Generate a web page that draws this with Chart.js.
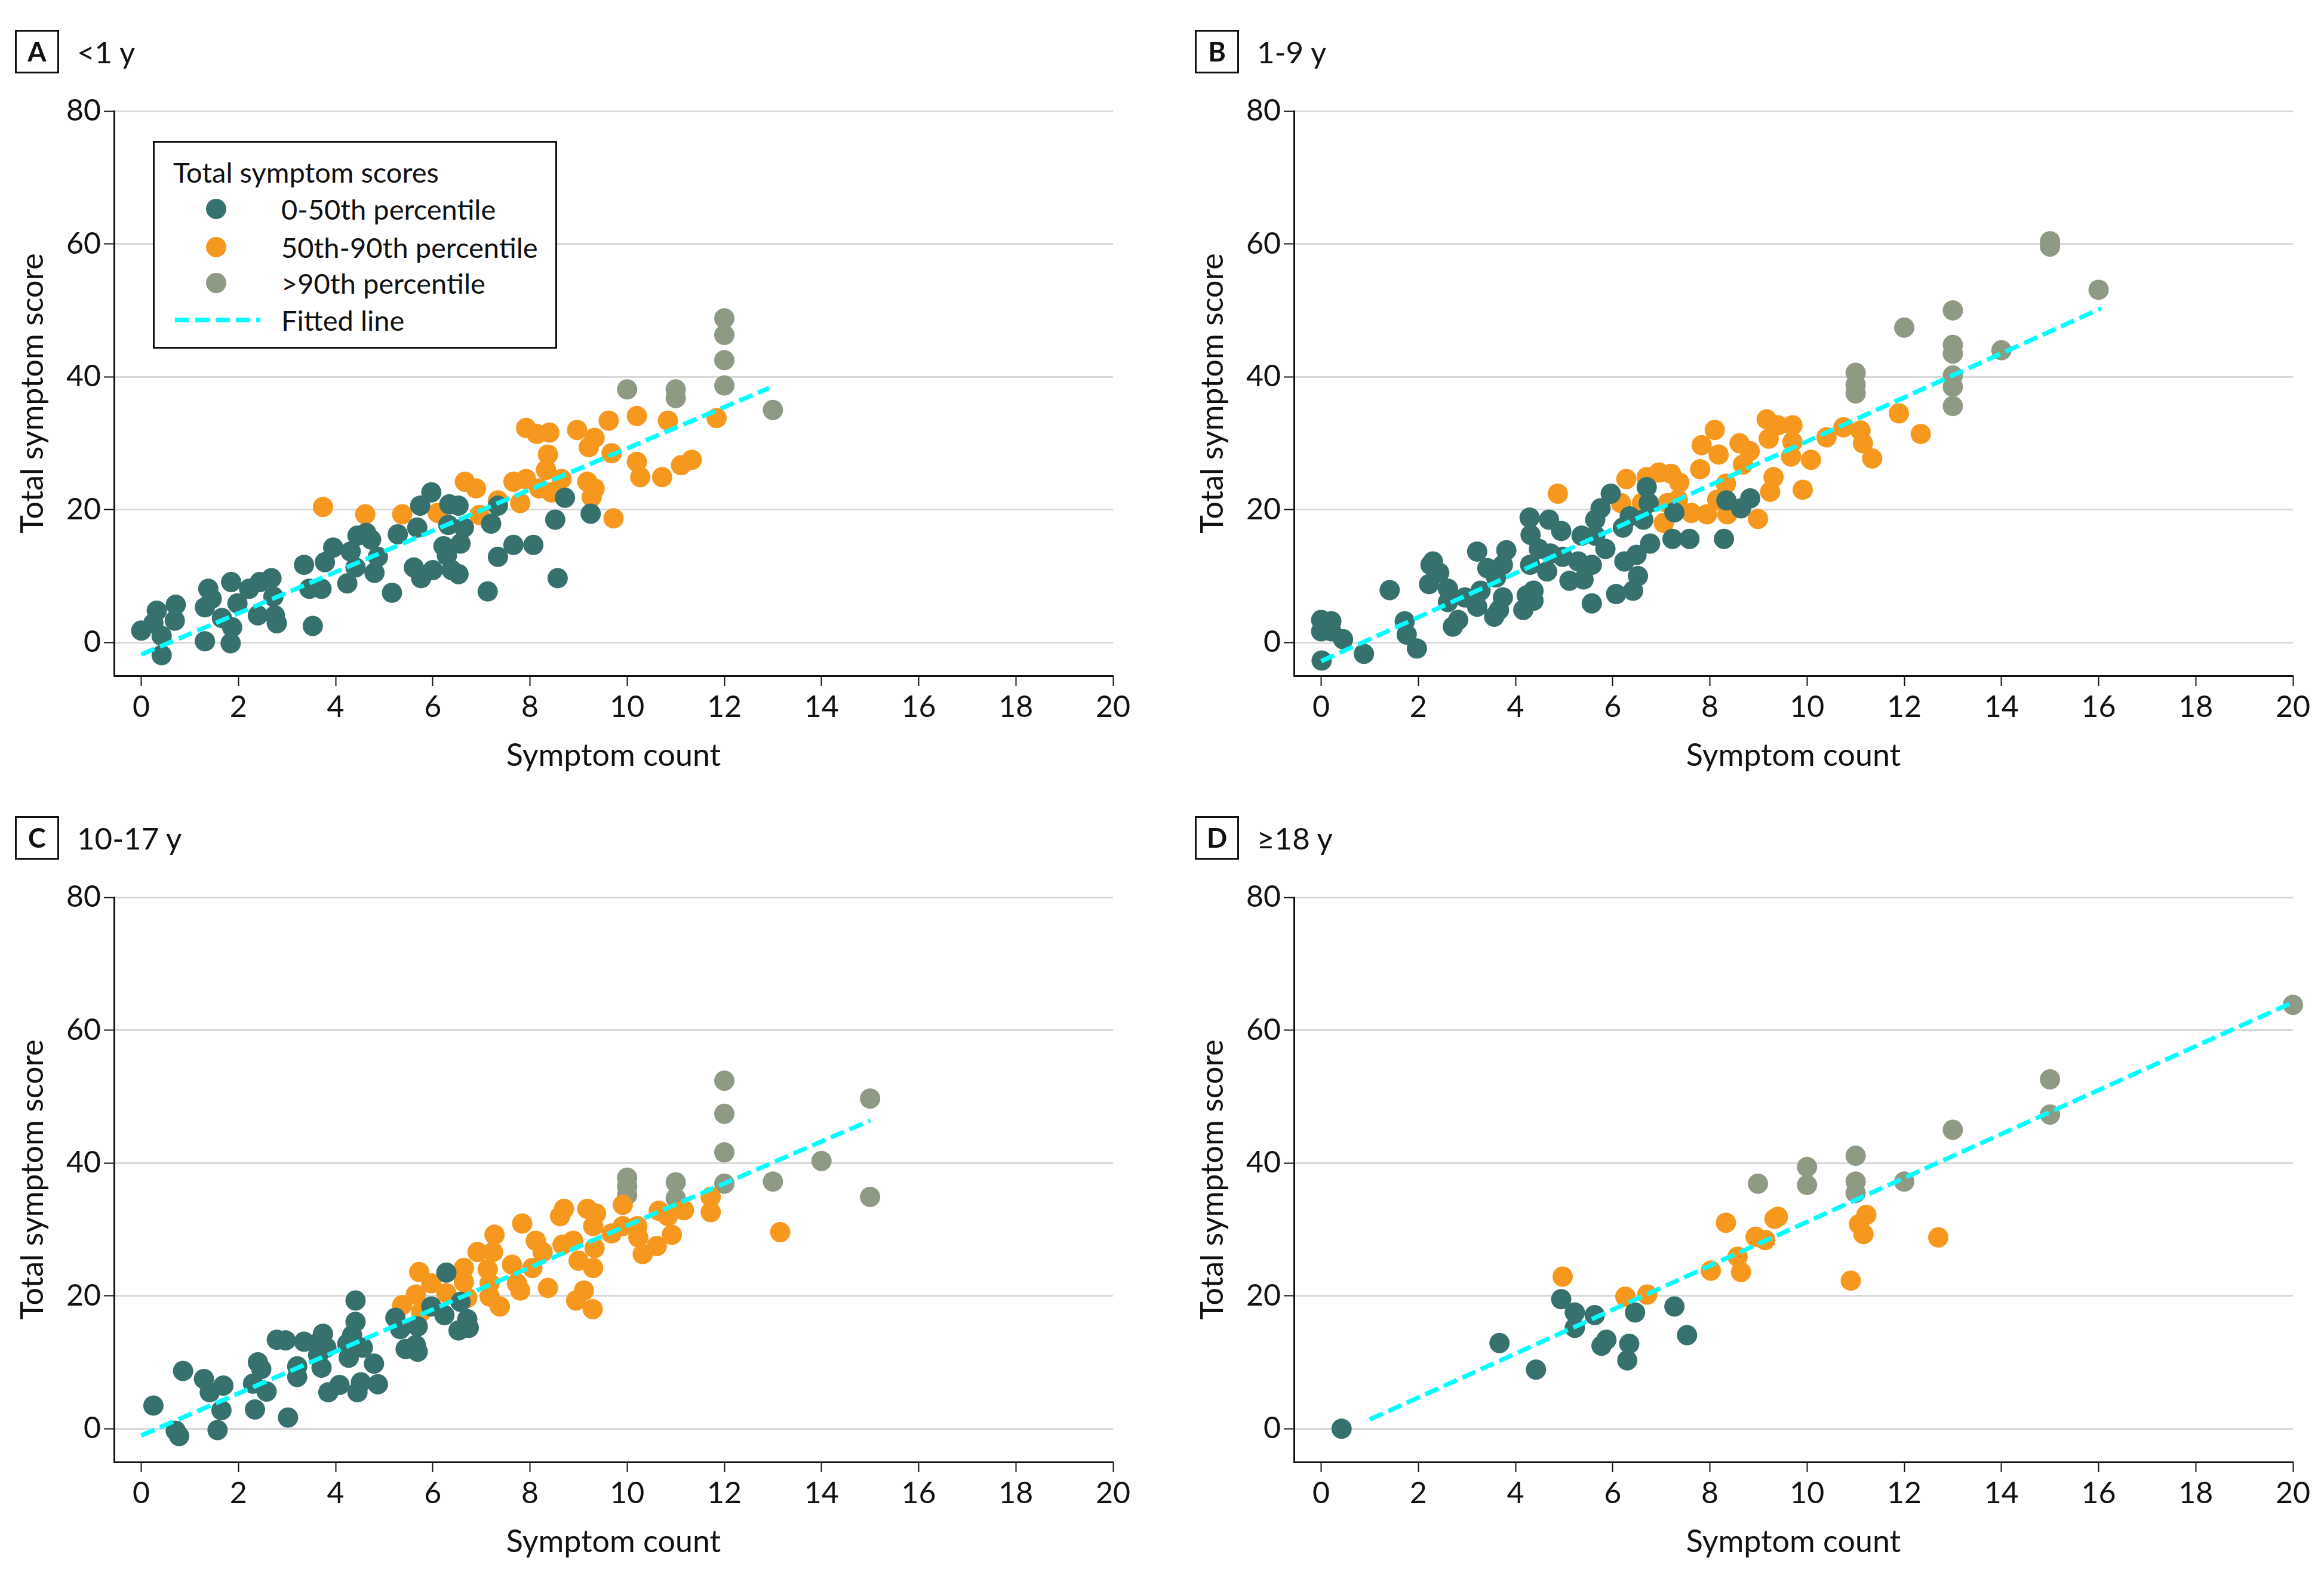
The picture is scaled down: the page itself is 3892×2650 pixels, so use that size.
<!DOCTYPE html>
<html>
<head>
<meta charset="utf-8">
<script src="https://cdn.jsdelivr.net/npm/chart.js@4.4.1/dist/chart.umd.min.js"></script>
<style>
  html, body { margin: 0; padding: 0; background: #fff; }
  body { width: 3892px; height: 2650px; position: relative; overflow: hidden;
         font-family: Lato, "Liberation Sans", sans-serif; color: #111; }
  .panel { position: absolute; width: 1946px; height: 1317px; }
  .panel canvas { position: absolute; left: 0; top: 0; }
  .tag { position: absolute; left: 25px; top: 50px; width: 68px; height: 67px;
         border: 3px solid #111; font-weight: bold; font-size: 45px;
         line-height: 67px; text-align: center; }
  .ttl { position: absolute; left: 129px; top: 50px; height: 73px;
         line-height: 73px; font-size: 51px; white-space: nowrap; }
  .legend { position: absolute; left: 256px; top: 236px; width: 671px; height: 342px;
            border: 3px solid #111; background: #fff; }
  .legend .row { position: absolute; height: 60px; line-height: 60px;
                 font-size: 47px; white-space: nowrap; }
  .legend svg { position: absolute; }
</style>
</head>
<body>
<script>
// tick labels and categories
const xTicks = [0, 2, 4, 6, 8, 10, 12, 14, 16, 18, 20];
const yTicks = [0, 20, 40, 60, 80];
const groupNames = ['0-50th percentile', '50th-90th percentile', '>90th percentile'];
const panelTags = ['A', 'B', 'C', 'D'];
const panelTitles = ['<1 y', '1-9 y', '10-17 y', '≥18 y'];

// A  <1 y   [symptom count, total symptom score]
const aLow = [[0.0,1.8],[0.32,4.8],[0.25,2.9],[0.42,1.0],[0.42,-1.9],[0.71,5.7],[0.69,3.3],[1.31,0.2],[1.31,5.3],[1.38,8.1],[1.45,6.6],[1.66,3.7],[1.84,-0.1],[1.87,2.3],[1.85,9.1],[1.98,5.9],[2.22,8.1],[2.40,4.1],[2.44,9.1],[2.68,9.7],[2.72,6.9],[2.75,4.1],[2.79,2.9],[3.53,2.5],[3.35,11.7],[3.46,8.1],[3.71,8.1],[3.78,12.1],[3.95,14.3],[4.24,8.9],[4.31,13.7],[4.41,11.3],[4.45,16.1],[4.63,16.5],[4.73,15.5],[4.87,12.9],[4.80,10.5],[5.16,7.5],[5.28,16.3],[5.61,11.3],[5.68,17.3],[5.76,9.7],[5.74,20.6],[5.97,22.6],[6.00,10.9],[6.22,14.5],[6.29,13.1],[6.32,17.7],[6.34,20.8],[6.39,10.9],[6.53,10.3],[6.53,20.6],[6.57,14.9],[6.64,17.3],[7.13,7.7],[7.20,17.9],[7.34,12.9],[7.34,20.6],[7.66,14.7],[8.07,14.7],[8.52,18.5],[8.57,9.7],[8.72,21.8],[9.25,19.4]];
const aMid = [[3.74,20.4],[4.61,19.3],[5.37,19.3],[6.10,19.5],[6.66,24.2],[6.89,23.2],[6.96,19.2],[7.34,21.4],[7.66,24.2],[7.80,21.0],[7.92,32.3],[8.14,31.4],[7.92,24.6],[8.19,23.2],[8.37,28.3],[8.33,26.0],[8.40,31.6],[8.44,22.6],[8.65,24.6],[8.97,32.0],[9.18,24.2],[9.33,30.8],[9.21,29.4],[9.27,21.9],[9.33,23.2],[9.62,33.4],[9.68,28.5],[9.72,18.7],[10.2,34.1],[10.2,27.2],[10.27,24.9],[10.84,33.4],[10.72,24.9],[11.11,26.7],[11.33,27.5],[11.84,33.8]];
const aHigh = [[10.0,38.1],[11.0,38.1],[11.0,36.8],[12.0,48.8],[12.0,46.3],[12.0,42.5],[12.0,38.7],[13.0,35.0]];
const aFit = [[0,-1.8],[12.92,38.3]];

// B  1-9 y
const bLow = [[0.01,-2.7],[0.0,3.4],[0.0,1.7],[0.21,3.2],[0.21,1.7],[0.45,0.5],[0.88,-1.7],[1.41,7.9],[1.72,3.2],[1.76,1.2],[1.97,-0.9],[2.25,11.7],[2.30,12.2],[2.22,8.8],[2.43,10.5],[2.61,8.1],[2.61,6.1],[2.71,2.4],[2.82,3.4],[2.96,6.8],[3.21,13.7],[3.21,5.4],[3.28,7.8],[3.42,11.2],[3.56,3.9],[3.66,4.9],[3.74,6.8],[3.81,13.9],[3.74,11.7],[3.60,9.8],[4.16,4.9],[4.23,7.1],[4.37,6.3],[4.37,7.8],[4.30,11.7],[4.29,18.8],[4.31,16.2],[4.48,14.1],[4.69,18.5],[4.65,10.7],[4.72,13.4],[4.94,16.8],[4.97,12.9],[5.11,9.3],[5.36,16.1],[5.29,12.2],[5.40,9.5],[5.57,11.7],[5.57,5.9],[5.64,16.1],[5.64,18.5],[5.75,20.2],[5.85,14.1],[5.96,22.4],[6.07,7.3],[6.21,17.3],[6.24,12.2],[6.35,19.0],[6.42,7.8],[6.49,13.2],[6.52,10.0],[6.63,18.5],[6.70,23.4],[6.74,21.0],[6.77,14.9],[7.23,15.6],[7.27,19.6],[7.58,15.6],[8.29,15.6],[8.34,21.4],[8.64,20.2],[8.83,21.7]];
const bMid = [[4.87,22.4],[6.28,24.6],[6.17,21.0],[6.60,21.0],[6.70,24.9],[6.95,25.6],[7.20,25.4],[7.37,24.1],[7.05,18.0],[7.13,21.0],[7.34,21.5],[7.62,19.5],[7.80,26.1],[7.83,29.7],[7.94,19.3],[8.10,32.0],[8.18,28.3],[8.15,21.5],[8.33,23.9],[8.36,19.3],[8.61,30.0],[8.68,26.8],[8.82,28.8],[8.99,18.6],[9.17,33.6],[9.21,30.7],[9.24,22.7],[9.31,24.9],[9.40,32.7],[9.67,28.0],[9.70,32.7],[9.70,30.2],[9.91,23.0],[10.08,27.5],[10.4,30.9],[10.75,32.4],[11.1,31.9],[11.15,30.0],[11.34,27.7],[11.89,34.5],[12.34,31.4]];
const bHigh = [[11.0,40.6],[11.0,38.8],[11.0,37.5],[12.0,47.4],[13.0,50.0],[13.0,44.8],[13.0,43.5],[13.0,40.2],[13.0,38.5],[13.0,35.6],[14.0,44.0],[15.0,60.4],[15.0,59.6],[16.0,53.1]];
const bFit = [[0,-2.8],[16.05,50.3]];

// C  10-17 y
const cLow = [[0.25,3.5],[0.71,-0.3],[0.78,-1.1],[0.86,8.7],[1.29,7.5],[1.41,5.5],[1.69,6.5],[1.65,2.8],[1.57,-0.2],[2.30,6.8],[2.40,10.0],[2.47,9.0],[2.34,2.9],[2.58,5.6],[2.79,13.4],[2.97,13.3],[3.02,1.7],[3.21,9.4],[3.21,7.8],[3.35,13.1],[3.60,12.8],[3.74,14.3],[3.81,12.2],[3.64,11.1],[3.71,9.2],[3.85,5.5],[4.08,6.6],[4.24,12.8],[4.27,10.7],[4.34,14.1],[4.41,16.1],[4.41,19.3],[4.45,5.5],[4.56,12.2],[4.52,7.0],[4.79,9.8],[4.87,6.7],[5.23,16.7],[5.33,15.0],[5.44,12.0],[5.69,11.6],[5.65,12.6],[5.69,15.4],[5.97,18.4],[6.24,17.1],[6.28,23.5],[6.57,19.1],[6.53,14.8],[6.74,15.2],[6.71,16.5]];
const cMid = [[5.37,18.6],[5.65,20.2],[5.72,23.6],[5.97,21.9],[5.76,17.6],[6.28,20.4],[6.64,24.2],[6.64,22.1],[6.71,19.7],[6.92,26.6],[7.27,29.2],[7.24,26.6],[7.13,24.0],[7.17,21.9],[7.17,19.9],[7.38,18.4],[7.63,24.7],[7.73,21.9],[7.80,20.8],[7.84,30.9],[8.12,28.3],[8.05,24.2],[8.26,26.6],[8.37,21.2],[8.62,32.0],[8.70,33.1],[8.67,27.7],[8.89,28.3],[9.00,25.3],[8.95,19.3],[9.11,20.8],[9.18,33.1],[9.36,32.4],[9.30,30.5],[9.33,27.2],[9.30,24.2],[9.29,18.0],[9.68,29.4],[9.91,33.7],[9.91,30.5],[10.21,30.5],[10.23,28.8],[10.32,26.3],[10.61,27.5],[10.65,32.8],[10.84,32.0],[10.92,29.2],[11.17,32.9],[11.72,34.9],[11.72,32.6],[13.15,29.6]];
const cHigh = [[10.0,37.8],[10.0,36.5],[10.0,35.2],[11.0,37.1],[11.0,34.7],[12.0,52.4],[12.0,47.4],[12.0,41.6],[12.0,36.9],[13.0,37.2],[14.0,40.3],[15.0,49.7],[15.0,34.9]];
const cFit = [[0,-1.0],[15.0,46.4]];

// D  >=18 y
const dLow = [[0.42,0.0],[3.67,12.9],[4.42,8.9],[4.94,19.5],[5.22,17.5],[5.22,15.2],[5.63,17.1],[5.87,13.4],[5.77,12.5],[6.34,12.8],[6.30,10.3],[6.46,17.5],[7.27,18.4],[7.53,14.1]];
const dMid = [[4.97,22.9],[6.26,19.9],[6.71,20.2],[8.02,23.8],[8.33,31.0],[8.57,25.9],[8.64,23.6],[8.94,28.9],[9.14,28.4],[9.33,31.6],[9.40,31.9],[10.9,22.3],[11.07,30.8],[11.22,32.2],[11.16,29.3],[12.7,28.8]];
const dHigh = [[8.99,36.9],[10.0,39.4],[10.0,36.7],[11.0,41.1],[11.0,37.2],[11.0,35.5],[12.0,37.2],[13.0,45.0],[15.0,52.6],[15.0,47.3],[20.0,63.8]];
const dFit = [[1.0,1.4],[20.0,64.2]];

const teal = '#37716e';
const orange = '#f7981e';
const sage = '#8e9a84';
const cyan = '#00ffff';
const ink = '#111111';
const fontFamily = 'Lato, "Liberation Sans", sans-serif';

function toPts(pairs) {
  return pairs.map(p => ({ x: p[0], y: p[1] }));
}

function dots(pairs, color, order) {
  return { data: toPts(pairs), backgroundColor: color, borderWidth: 0,
           pointRadius: 17, pointHoverRadius: 17, order: order, clip: false };
}

function makePanel(i, left, top, low, mid, high, fit) {
  let wrap = document.createElement('div');
  wrap.className = 'panel';
  wrap.style.left = left + 'px';
  wrap.style.top = top + 'px';
  document.body.appendChild(wrap);

  let canvas = document.createElement('canvas');
  canvas.width = 1946;
  canvas.height = 1317;
  wrap.appendChild(canvas);

  let tag = document.createElement('div');
  tag.className = 'tag';
  tag.textContent = panelTags[i];
  wrap.appendChild(tag);
  let ttl = document.createElement('div');
  ttl.className = 'ttl';
  ttl.textContent = panelTitles[i];
  wrap.appendChild(ttl);

  new Chart(canvas, {
    type: 'scatter',
    data: {
      datasets: [
        { label: 'Fitted line', data: toPts(fit), showLine: true, borderColor: cyan,
          borderWidth: 7.5, borderDash: [24, 10], pointRadius: 0, fill: false,
          order: 0, clip: false },
        Object.assign({ label: groupNames[0] }, dots(low, teal, 1)),
        Object.assign({ label: groupNames[1] }, dots(mid, orange, 2)),
        Object.assign({ label: groupNames[2] }, dots(high, sage, 3))
      ]
    },
    options: {
      responsive: false,
      animation: false,
      devicePixelRatio: 1,
      layout: { padding: { left: 0, top: 186, right: 82, bottom: 0 } },
      plugins: { legend: { display: false }, tooltip: { enabled: false } },
      scales: {
        x: {
          type: 'linear', min: -0.56, max: 20,
          afterBuildTicks: axis => { axis.ticks = xTicks.map(v => ({ value: v })); },
          afterFit: s => { s.height = 185; },
          grid: { drawOnChartArea: false, tickLength: 17, tickColor: ink, tickWidth: 2 },
          border: { color: ink, width: 3 },
          ticks: { color: ink, autoSkip: false, maxRotation: 0, padding: 6,
                   font: { family: fontFamily, size: 50 } },
          title: { display: true, text: 'Symptom count', color: ink,
                   font: { family: fontFamily, size: 52, lineHeight: 1.2 },
                   padding: { top: 0, bottom: 20 } }
        },
        y: {
          type: 'linear', min: -5, max: 80,
          afterBuildTicks: axis => { axis.ticks = yTicks.map(v => ({ value: v })); },
          afterFit: s => { s.width = 191; },
          grid: { color: '#d9d9d9', lineWidth: 3, tickLength: 17, tickColor: ink, tickWidth: 2 },
          border: { color: ink, width: 3 },
          ticks: { color: ink, padding: 5, font: { family: fontFamily, size: 50 } },
          title: { display: true, text: 'Total symptom score', color: ink,
                   font: { family: fontFamily, size: 52, lineHeight: 1.2 },
                   padding: { top: 24, bottom: 0 } }
        }
      }
    }
  });
  return wrap;
}

let panelA = makePanel(0, 0, 0, aLow, aMid, aHigh, aFit);
makePanel(1, 1976, 0, bLow, bMid, bHigh, bFit);
makePanel(2, 0, 1317, cLow, cMid, cHigh, cFit);
makePanel(3, 1976, 1317, dLow, dMid, dHigh, dFit);

// legend box inside panel A
let legend = document.createElement('div');
legend.className = 'legend';
let html = '<div class="row" style="left:31px;top:19px">Total symptom scores</div>';
let colors = [teal, orange, sage];
let rowY = [111, 175, 235];
for (let k = 0; k < 3; k++) {
  html += '<svg width="40" height="40" style="left:83px;top:' + (rowY[k] - 20) + 'px">' +
          '<circle cx="20" cy="20" r="17" fill="' + colors[k] + '"/></svg>';
  html += '<div class="row" style="left:212px;top:' + (rowY[k] - 30) + 'px">' + groupNames[k].replace('>', '&gt;') + '</div>';
}
html += '<svg width="150" height="20" style="left:34px;top:287px">' +
        '<line x1="0" y1="10" x2="143" y2="10" stroke="' + cyan + '" stroke-width="7.5" stroke-dasharray="24 10"/></svg>';
html += '<div class="row" style="left:212px;top:267px">Fitted line</div>';
legend.innerHTML = html;
panelA.appendChild(legend);
</script>
</body>
</html>
